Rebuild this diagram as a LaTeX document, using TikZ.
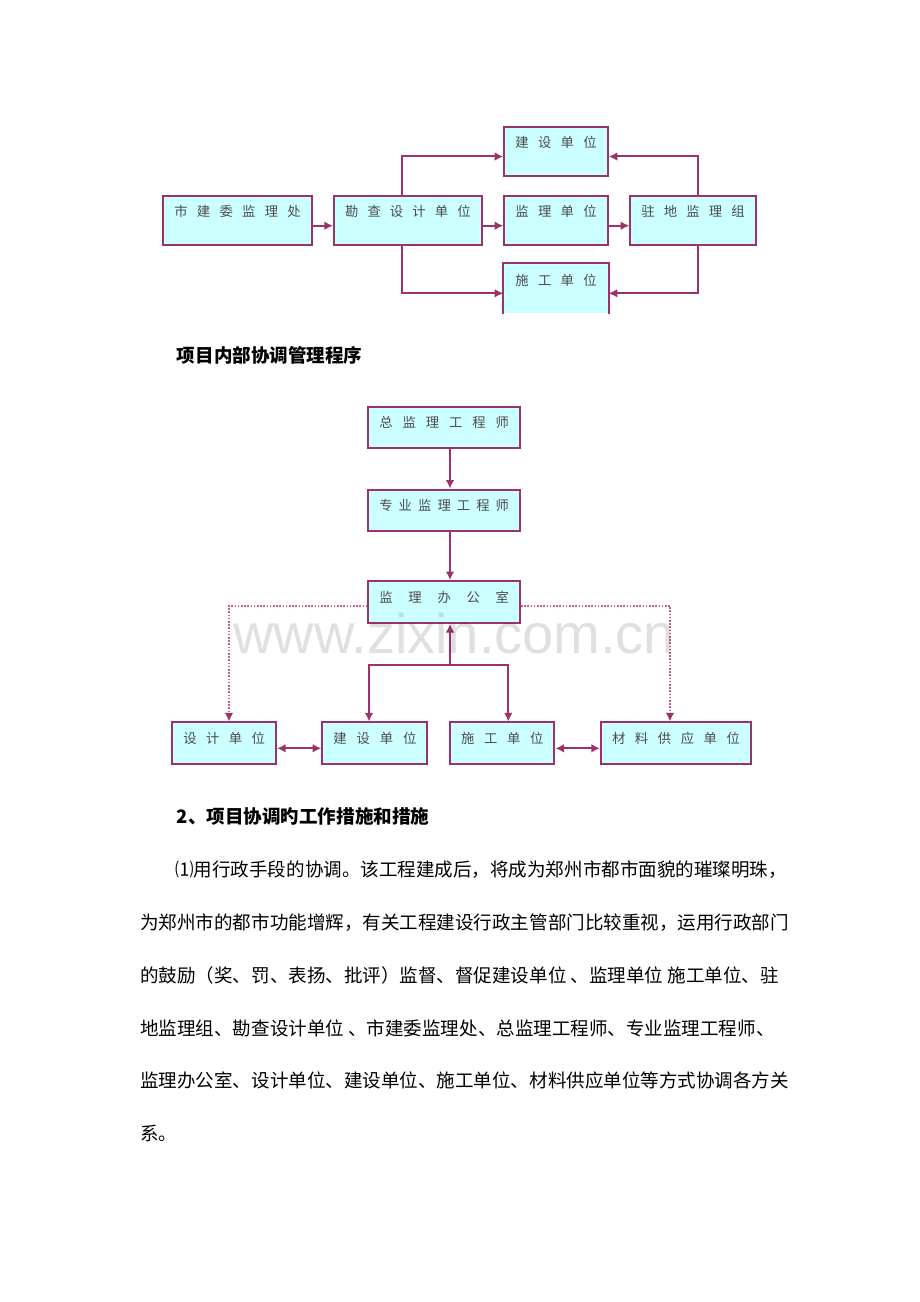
\documentclass[tikz,border=0pt]{standalone}
\usepackage{fontspec}
\usepackage{xcolor}
\usepackage{tikz}
\usetikzlibrary{arrows.meta}
\newfontfamily\cjk{Noto Sans CJK SC}
\newfontfamily\wmark{Liberation Sans}
\definecolor{plum}{RGB}{155,50,105}
\definecolor{paleblue}{RGB}{204,255,255}
\definecolor{dotpink}{RGB}{215,85,150}
\newcommand\lbl[2]{\makebox[#1][s]{#2}}
\tikzset{
    unit/.style = {draw=plum, fill=paleblue, line width=1.5pt, inner sep=0pt, text=black!70,
                   font=\cjk\fontsize{10pt}{11pt}\selectfont, text height=15.75pt},
    tall/.style = {unit, text depth=21pt},
    short/.style = {unit, text depth=15.5pt},
    flow/.style = {plum, line width=1.5pt, -{Latex[length=6.5pt,width=6.5pt]}},
    both/.style = {plum, line width=1.5pt, {Latex[length=6.5pt,width=6.5pt]}-{Latex[length=6.5pt,width=6.5pt]}},
    hint/.style = {dotpink, line width=1.3pt, dash pattern=on 1.2pt off 1.2pt, -{Latex[length=6.5pt,width=6.5pt,color=plum]}},
    heading/.style = {anchor=west, inner sep=0pt, font=\cjk\bfseries\fontsize{13.9pt}{16pt}\selectfont},
    body/.style = {anchor=west, inner sep=0pt, font=\cjk\fontsize{13.9pt}{16pt}\selectfont}
}
\begin{document}
\begin{tikzpicture}[x=0.75pt, y=-0.75pt]
\useasboundingbox (0,0) rectangle (920,1302);

% outer coordination
\node[tall, minimum width=111.3pt] (shi) at (237.5,220.3) {\lbl{94.8pt}{市 建 委 监 理 处}};
\node[tall, minimum width=110.8pt] (kan) at (407.9,220.3) {\lbl{94.3pt}{勘 查 设 计 单 位}};
\node[tall, minimum width=77.5pt] (jsA) at (556,151.3) {\lbl{61pt}{建 设 单 位}};
\node[tall, minimum width=77.5pt] (jlA) at (556,220.3) {\lbl{61pt}{监 理 单 位}};
\node[tall, draw=none, text depth=20.5pt, minimum width=77.5pt] (sgA) at (556,288.5) {\lbl{61pt}{施 工 单 位}};
\node[tall, minimum width=94pt] (zhu) at (693,220.3) {\lbl{77.5pt}{驻 地 监 理 组}};
\draw[plum, line width=1.5pt] (sgA.south west) -- (sgA.north west) -- (sgA.north east) -- (sgA.south east);

\coordinate (rowA) at (0,225.7);
\coordinate (upA) at (0,156.5);
\coordinate (dnA) at (0,293.3);
\coordinate (colL) at (402.3,0);
\coordinate (colR) at (698.3,0);
\draw[flow] (shi.east |- rowA) -- (kan.west |- rowA);
\draw[flow] (kan.east |- rowA) -- (jlA.west |- rowA);
\draw[flow] (jlA.east |- rowA) -- (zhu.west |- rowA);
\draw[flow] (kan.north -| colL) |- (jsA.west |- upA);
\draw[flow] (kan.south -| colL) |- (sgA.west |- dnA);
\draw[flow] (zhu.north -| colR) |- (jsA.east |- upA);
\draw[flow] (zhu.south -| colR) |- (sgA.east |- dnA);

\node[heading] (headA) at (176.7,355) {项目内部协调管理程序};

% inner coordination
\node[short, minimum width=113.8pt] (zong) at (444.2,427.5) {\lbl{97.3pt}{总 监 理 工 程 师}};
\node[short, minimum width=113.8pt] (zhuan) at (444.2,510.5) {\lbl{97.3pt}{专 业 监 理 工 程 师}};
\node[short, minimum width=113.8pt] (office) at (444.2,602) {\lbl{97.3pt}{监 理 办 公 室}};
\node[short, minimum width=77.8pt] (design) at (224.2,743.3) {\lbl{61.3pt}{设 计 单 位}};
\node[short, minimum width=78.8pt] (build) at (374.8,743.3) {\lbl{62.3pt}{建 设 单 位}};
\node[short, minimum width=78.2pt] (cons) at (502.2,743.3) {\lbl{61.7pt}{施 工 单 位}};
\node[short, minimum width=112.5pt] (mat) at (676,743.3) {\lbl{96pt}{材 料 供 应 单 位}};

\coordinate (colM) at (450,0);
\coordinate (colB) at (369,0);
\coordinate (colC) at (508.3,0);
\coordinate (colD) at (229,0);
\coordinate (colE) at (670,0);
\coordinate (rowB) at (0,605.7);
\coordinate (rowC) at (0,748.3);
\coordinate (hub) at (450,665);
\draw[flow] (zong.south -| colM) -- (zhuan.north -| colM);
\draw[flow] (zhuan.south -| colM) -- (office.north -| colM);
\draw[flow] (hub) -- (office.south -| hub);
\draw[flow] (hub) -| (colB |- build.north);
\draw[flow] (hub) -| (colC |- cons.north);
\draw[hint] (office.west |- rowB) -| (colD |- design.north);
\draw[hint] (office.east |- rowB) -| (colE |- mat.north);
\draw[both] (design.east |- rowC) -- (build.west |- rowC);
\draw[both] (cons.east |- rowC) -- (mat.west |- rowC);

\node[anchor=base west, inner sep=0pt, font=\wmark\fontsize{42pt}{42pt}\selectfont, text=black, opacity=0.12] (mark) at (233,653) {www.zixin.com.cn};

\node[heading] (headB) at (176.7,816.7) {2、项目协调旳工作措施和措施};
\node[body] (line1) at (175,870) {⑴用行政手段的协调。该工程建成后，将成为郑州市都市面貌的璀璨明珠，};
\node[body] (line2) at (140,922.7) {为郑州市的都市功能增辉，有关工程建设行政主管部门比较重视，运用行政部门};
\node[body] (line3) at (140,975.4) {的鼓励（奖、罚、表扬、批评）监督、督促建设单位 、监理单位 施工单位、驻};
\node[body] (line4) at (140,1028) {地监理组、勘查设计单位 、市建委监理处、总监理工程师、专业监理工程师、};
\node[body] (line5) at (140,1080.7) {监理办公室、设计单位、建设单位、施工单位、材料供应单位等方式协调各方关};
\node[body] (line6) at (140,1133.3) {系。};
\end{tikzpicture}
\end{document}
